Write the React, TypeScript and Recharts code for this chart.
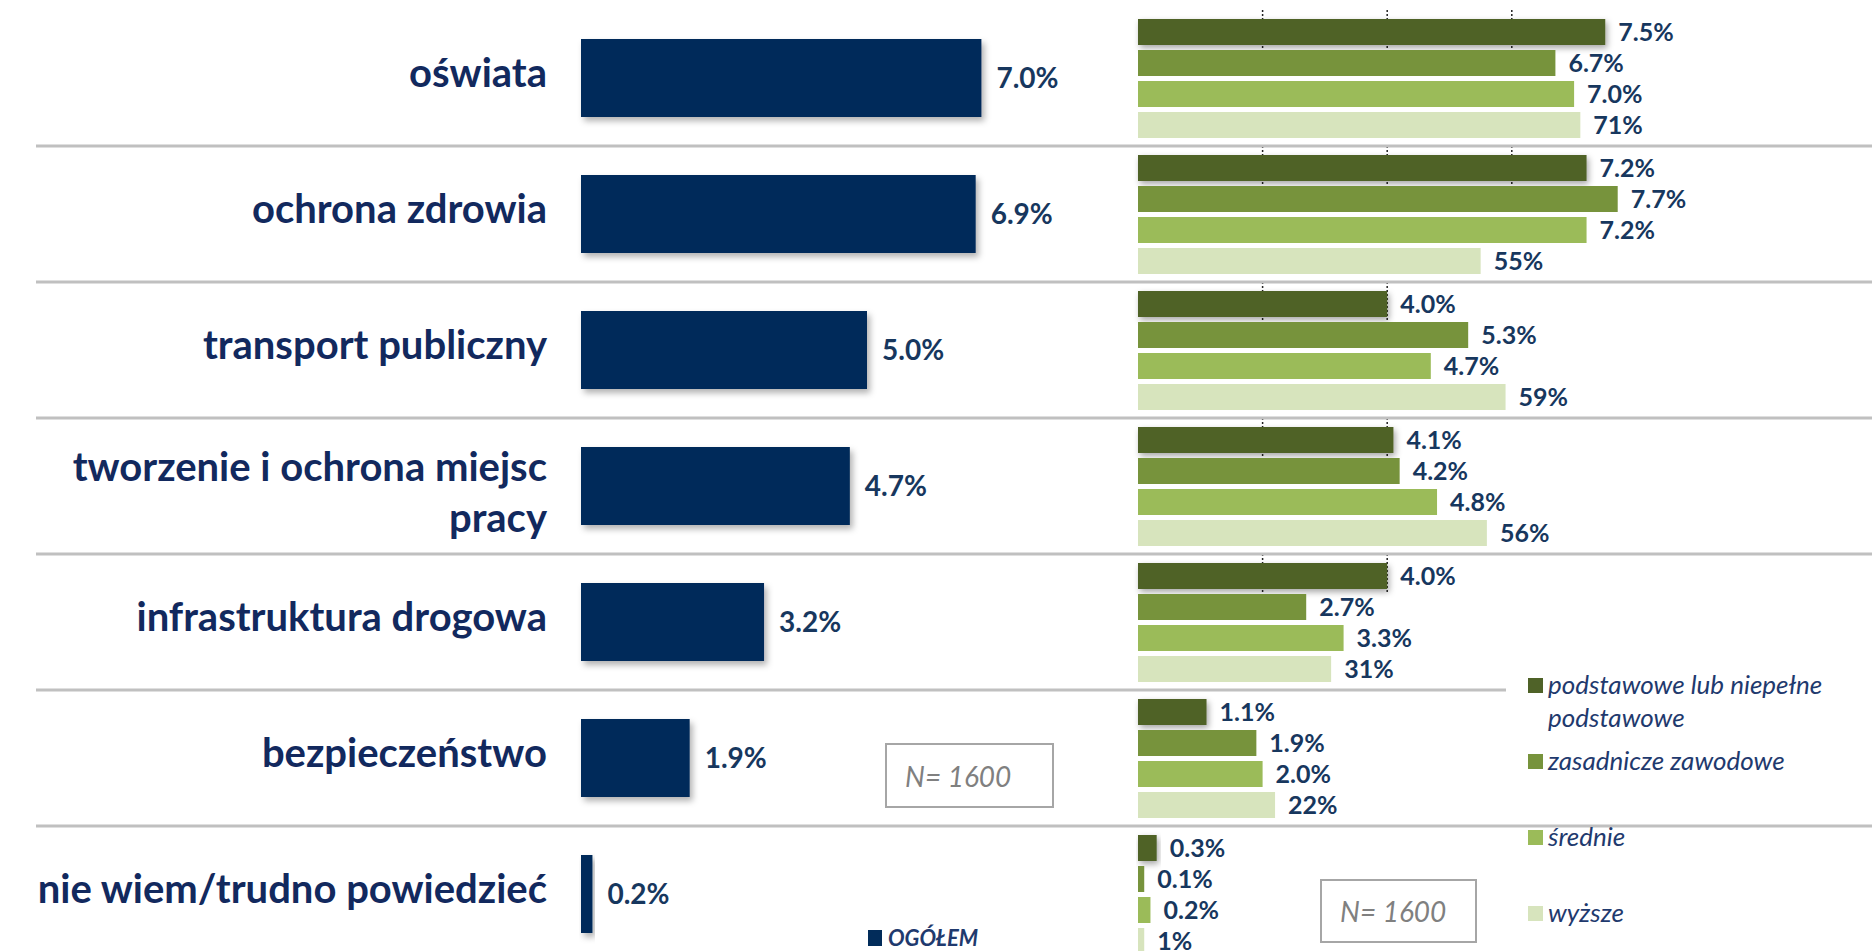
import React from "react";
import { BarChart, Bar, XAxis, YAxis, ReferenceLine, LabelList, Legend } from "recharts";

const categories = [
  "oświata",
  "ochrona zdrowia",
  "transport publiczny",
  "tworzenie i ochrona miejsc\npracy",
  "infrastruktura drogowa",
  "bezpieczeństwo",
  "nie wiem/trudno powiedzieć",
];

const ogolem = [7.0, 6.9, 5.0, 4.7, 3.2, 1.9, 0.2];
const podstawowe = [7.5, 7.2, 4.0, 4.1, 4.0, 1.1, 0.3];
const zasadnicze = [6.7, 7.7, 5.3, 4.2, 2.7, 1.9, 0.1];
const srednie = [7.0, 7.2, 4.7, 4.8, 3.3, 2.0, 0.2];
const wyzsze = [7.1, 5.5, 5.9, 5.6, 3.1, 2.2, 0.1];
// the slide prints these without the decimal point
const wyzszeLabels = ["71%", "55%", "59%", "56%", "31%", "22%", "1%"];

const seriesKeys = ["podstawowe", "zasadnicze", "srednie", "wyzsze"];
const seriesNames = ["podstawowe lub niepełne podstawowe", "zasadnicze zawodowe", "średnie", "wyższe"];
const seriesColors = ["#4f6228", "#77933c", "#9bbb59", "#d7e4bd"];
const gridTicks = [2, 4, 6];

const data = categories.map((category, i) => ({
  category,
  ogolem: ogolem[i],
  podstawowe: podstawowe[i],
  zasadnicze: zasadnicze[i],
  srednie: srednie[i],
  wyzsze: wyzsze[i],
  wyzszeLabel: wyzszeLabels[i],
}));

const W = 1872;
const H = 962;
const PLOT_LEFT = 36;
// where each panel's zero sits and how many px one percent point takes
const LEFT_ZERO = 581;
const LEFT_UNIT = 57.2;
const RIGHT_ZERO = 1138;
const RIGHT_UNIT = 62.3;
const leftDomain = [-(LEFT_ZERO - PLOT_LEFT) / LEFT_UNIT, (W - LEFT_ZERO) / LEFT_UNIT];
const rightDomain = [-(RIGHT_ZERO - PLOT_LEFT) / RIGHT_UNIT, (W - RIGHT_ZERO) / RIGHT_UNIT];

const NAVY = "#022c5a";
const TEXT_NAVY = "#12295e";
const LABEL_NAVY = "#17375e";
const FONT = "Lato, 'Noto Sans', sans-serif";

const pct = (v: any) => `${Number(v).toFixed(1)}%`;

const NavyBar = (p: any) => (
  <rect x={p.x} y={p.y} width={Math.max(p.width, 0)} height={p.height} fill={p.fill} filter="url(#navyShadow)" />
);

const DarkBar = (p: any) => {
  const v = p.payload.podstawowe;
  const unit = p.width / v;
  return (
    <g>
      {gridTicks
        .filter((t) => t <= v + 0.05)
        .map((t) => (
          <line
            key={t}
            x1={p.x + t * unit}
            x2={p.x + t * unit}
            y1={p.y - 9}
            y2={p.y + p.height + 5}
            stroke="#222"
            strokeWidth={1.5}
            strokeDasharray="2 2"
          />
        ))}
      <rect x={p.x} y={p.y} width={Math.max(p.width, 0)} height={p.height} fill={p.fill} filter="url(#oliveShadow)" />
    </g>
  );
};

const CategoryLabel = (props: any) => {
  const vb = props.viewBox ?? props;
  const lines = String(props.value).split("\n");
  const cy = vb.y + vb.height / 2;
  const tx = vb.x - 34;
  return (
    <text textAnchor="end" fontSize={40} fontWeight={700} fill={TEXT_NAVY} fontFamily={FONT}>
      {lines.map((l, i) => (
        <tspan key={i} x={tx} y={cy + 9 - (lines.length - 1) * 14 + i * 51}>
          {l}
        </tspan>
      ))}
    </text>
  );
};

const EduLegend = () => (
  <div style={{ position: "relative", width: 366, height: 280, fontFamily: FONT, fontStyle: "italic", fontSize: 26, color: "#1f3a6e" }}>
    {seriesNames.map((name, i) => (
      <div
        key={name}
        style={{
          position: "absolute",
          left: 0,
          top: i * 76,
          width: 366,
          paddingLeft: 22,
          boxSizing: "border-box",
          lineHeight: "33px",
          background: i === 0 ? "#fff" : "transparent",
          display: "flex",
        }}
      >
        <span style={{ width: 15, height: 15, background: seriesColors[i], marginTop: 10, marginRight: 5, flex: "none" }} />
        <span style={{ width: 310 }}>{name}</span>
      </div>
    ))}
  </div>
);

const nBox = (left: number, top: number, width: number, height: number) => (
  <div
    style={{
      position: "absolute",
      left,
      top,
      width,
      height,
      border: "2px solid #a6a6a6",
      boxSizing: "border-box",
      display: "flex",
      alignItems: "center",
      paddingLeft: 18,
      fontFamily: FONT,
      fontStyle: "italic",
      fontSize: 28,
      color: "#808080",
    }}
  >
    N= 1600
  </div>
);

export default function App() {
  return (
    <div style={{ position: "absolute", left: 0, top: 0, width: W, height: 951, overflow: "hidden", background: "#fff" }}>
      <svg width="0" height="0" style={{ position: "absolute" }}>
        <defs>
          <filter id="navyShadow" x="-10%" y="-20%" width="130%" height="150%">
            <feDropShadow dx="3" dy="4" stdDeviation="3" floodColor="#000" floodOpacity="0.3" />
          </filter>
          <filter id="oliveShadow" x="-10%" y="-50%" width="130%" height="200%">
            <feDropShadow dx="2" dy="3" stdDeviation="3" floodColor="#000" floodOpacity="0.35" />
          </filter>
        </defs>
      </svg>
      <BarChart
        width={W}
        height={H}
        data={data}
        layout="vertical"
        barGap={5}
        margin={{ top: 10, right: 0, bottom: 0, left: PLOT_LEFT }}
      >
        <XAxis xAxisId="left" type="number" domain={leftDomain} allowDataOverflow hide />
        <XAxis xAxisId="right" type="number" domain={rightDomain} allowDataOverflow hide />
        <YAxis yAxisId="left" type="category" dataKey="category" hide />
        <YAxis yAxisId="right" type="category" dataKey="category" hide />
        {categories.slice(1).map((c) => (
          <ReferenceLine
            key={c}
            xAxisId="left"
            yAxisId="left"
            y={c}
            position="start"
            stroke="#c0c0c0"
            strokeWidth={3}
          />
        ))}
        <Legend content={EduLegend} layout="vertical" align="center" verticalAlign="middle" wrapperStyle={{ left: 1506, top: 668, width: 366 }} />
        <Bar xAxisId="left" yAxisId="left" dataKey="ogolem" name="OGÓŁEM" fill={NAVY} barSize={78} shape={NavyBar} isAnimationActive={false}>
          <LabelList dataKey="ogolem" position="right" offset={15} formatter={pct} fill={LABEL_NAVY} fontSize={28} fontWeight={700} fontFamily={FONT} />
          <LabelList dataKey="category" content={CategoryLabel} />
        </Bar>
        {seriesKeys.map((k, i) => (
          <Bar
            key={k}
            xAxisId="right"
            yAxisId="right"
            dataKey={k}
            name={seriesNames[i]}
            fill={seriesColors[i]}
            barSize={26}
            shape={i === 0 ? DarkBar : undefined}
            isAnimationActive={false}
          >
            <LabelList
              dataKey={k === "wyzsze" ? "wyzszeLabel" : k}
              position="right"
              offset={13}
              formatter={k === "wyzsze" ? undefined : pct}
              fill={LABEL_NAVY}
              fontSize={25}
              fontWeight={700}
              fontFamily={FONT}
            />
          </Bar>
        ))}
      </BarChart>
      {nBox(885, 743, 169, 65)}
      {nBox(1320, 879, 157, 64)}
      <div style={{ position: "absolute", left: 868, top: 928, height: 20, lineHeight: "20px", display: "flex", alignItems: "center", fontFamily: FONT, fontStyle: "italic", fontWeight: 700, fontSize: 22, color: "#1f3a6e" }}>
        <span style={{ width: 14, height: 16, background: NAVY, marginRight: 6 }} />
        OGÓŁEM
      </div>
    </div>
  );
}
